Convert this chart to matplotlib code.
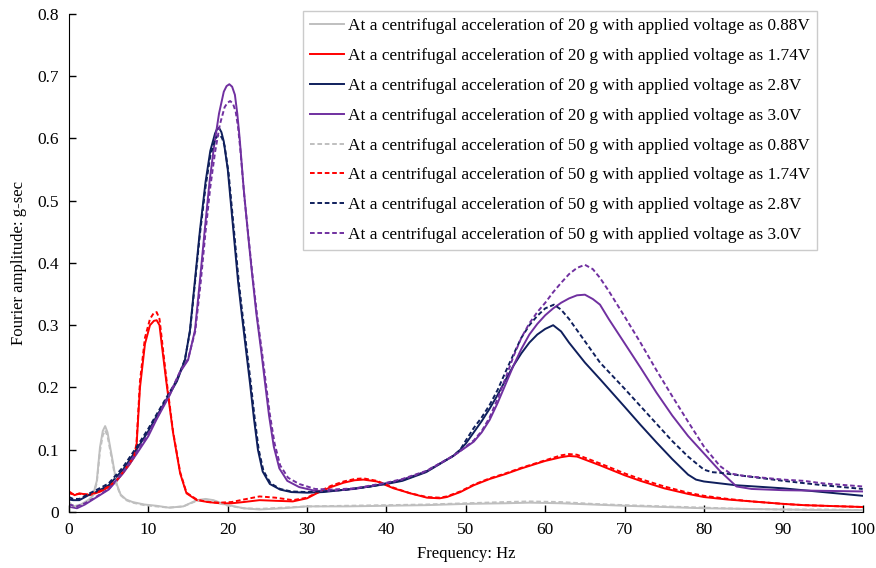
import matplotlib
matplotlib.use("Agg")
import matplotlib.pyplot as plt

# (frequency Hz, Fourier amplitude g-sec)
g20_088 = [(0, 0.016), (0.5, 0.009), (1.5, 0.012), (2.5, 0.02), (3.0, 0.026), (3.5, 0.05), (3.9, 0.104),
           (4.25, 0.13), (4.55, 0.138), (4.85, 0.128), (5.1, 0.11), (5.4, 0.089), (6.0, 0.045), (6.5, 0.028),
           (7.2, 0.02), (8, 0.016), (9.5, 0.012), (11, 0.010), (12.6, 0.007), (14.4, 0.009), (16.1, 0.019),
           (17.2, 0.021), (18.2, 0.019), (19.7, 0.012), (22, 0.006), (24, 0.004), (27, 0.006), (30, 0.009),
           (35, 0.009), (40, 0.010), (45, 0.011), (50, 0.013), (55, 0.014), (58, 0.015), (62, 0.014),
           (66, 0.012), (70, 0.010), (75, 0.008), (80, 0.006), (85, 0.005), (90, 0.004), (95, 0.003), (100, 0.003)]
g50_088 = [(0, 0.014), (0.5, 0.008), (1.5, 0.011), (2.5, 0.019), (3.0, 0.025), (3.5, 0.047), (3.9, 0.098),
           (4.25, 0.123), (4.55, 0.131), (4.85, 0.122), (5.1, 0.105), (5.4, 0.085), (6.0, 0.043), (6.5, 0.027),
           (7.2, 0.019), (8, 0.015), (9.5, 0.011), (11, 0.009), (12.6, 0.007), (14.4, 0.009), (16.1, 0.018),
           (17.2, 0.02), (18.2, 0.018), (19.7, 0.011), (22, 0.006), (24, 0.005), (27, 0.007), (30, 0.009),
           (35, 0.010), (40, 0.011), (45, 0.012), (50, 0.014), (55, 0.016), (58, 0.017), (62, 0.016),
           (66, 0.013), (70, 0.011), (75, 0.009), (80, 0.007), (85, 0.005), (90, 0.004), (95, 0.004), (100, 0.003)]

g20_174 = [(0, 0.033), (0.7, 0.027), (1.3, 0.03), (2.6, 0.027), (4, 0.033), (5, 0.04), (6, 0.05), (6.8, 0.063),
           (7.6, 0.076), (8.2, 0.088), (8.5, 0.105), (8.94, 0.2), (9.57, 0.27), (10.2, 0.3), (10.7, 0.307),
           (11.04, 0.308), (11.4, 0.3), (11.67, 0.27), (12.3, 0.205), (13.1, 0.128), (14.0, 0.062),
           (14.8, 0.03), (16.1, 0.019), (17.5, 0.016), (19, 0.014), (20.5, 0.014), (22, 0.016), (24, 0.019),
           (26, 0.018), (28.2, 0.017), (30, 0.022), (31.2, 0.03), (33, 0.04), (34.6, 0.047), (36, 0.051),
           (37.1, 0.052), (38.8, 0.049), (40.9, 0.038), (43, 0.03), (45.1, 0.023), (46.7, 0.022),
           (47.6, 0.024), (49.3, 0.032), (51, 0.043), (53, 0.053), (55, 0.061), (57, 0.07), (60, 0.082),
           (62, 0.088), (63, 0.09), (64, 0.089), (66.9, 0.075), (70, 0.059), (72, 0.05), (75, 0.038),
           (78, 0.029), (80, 0.024), (83, 0.02), (86, 0.017), (90, 0.013), (92.6, 0.011), (95, 0.01),
           (100, 0.008)]
g50_174 = [(0, 0.03), (0.7, 0.028), (1.3, 0.029), (2.6, 0.028), (4, 0.034), (5, 0.041), (6, 0.051), (6.8, 0.064),
           (7.6, 0.078), (8.2, 0.09), (8.5, 0.11), (8.94, 0.21), (9.57, 0.28), (10.2, 0.31), (10.7, 0.32),
           (11.04, 0.321), (11.4, 0.31), (11.67, 0.28), (12.3, 0.21), (13.1, 0.13), (14.0, 0.064),
           (14.8, 0.031), (16.1, 0.02), (17.5, 0.016), (19, 0.015), (20.5, 0.016), (22, 0.02), (24, 0.025),
           (26, 0.023), (28.2, 0.019), (30, 0.023), (31.2, 0.031), (33, 0.042), (34.6, 0.049), (36, 0.053),
           (37.1, 0.054), (38.8, 0.05), (40.9, 0.039), (43, 0.03), (45.1, 0.024), (46.7, 0.023),
           (47.6, 0.025), (49.3, 0.033), (51, 0.044), (53, 0.054), (55, 0.062), (57, 0.071), (60, 0.083),
           (62, 0.091), (63, 0.093), (64, 0.092), (66.9, 0.078), (70, 0.062), (72, 0.053), (75, 0.041),
           (78, 0.031), (80, 0.026), (83, 0.021), (86, 0.017), (90, 0.013), (92.6, 0.011), (95, 0.01),
           (100, 0.008)]

g20_28 = [(0, 0.02), (0.5, 0.019), (1.3, 0.019), (2.6, 0.028), (4, 0.036), (5, 0.043), (6.8, 0.068), (8.5, 0.1),
          (10, 0.13), (11, 0.153), (12.7, 0.19), (13.6, 0.21), (14.6, 0.244), (15.24, 0.292), (15.87, 0.373),
          (16.5, 0.453), (17.2, 0.53), (17.8, 0.58), (18.4, 0.608), (18.65, 0.615), (18.9, 0.617), (19.2, 0.61),
          (19.5, 0.595), (20.0, 0.55), (20.7, 0.453), (21.3, 0.37), (21.75, 0.319), (22.3, 0.26), (22.8, 0.207),
          (23.3, 0.15), (23.8, 0.1), (24.4, 0.065), (25.3, 0.045), (26.6, 0.036), (28, 0.032), (30, 0.031),
          (32, 0.032), (35, 0.036), (38, 0.041), (40, 0.045), (42, 0.05), (45, 0.064), (48.4, 0.09), (49.3, 0.1),
          (50, 0.11), (51, 0.128), (52, 0.146), (53, 0.166), (54, 0.188), (55, 0.212), (56, 0.235), (57, 0.255),
          (58, 0.272), (59, 0.285), (60, 0.294), (61, 0.3), (62, 0.29), (63, 0.272), (65, 0.24), (67, 0.212),
          (70, 0.169), (72, 0.14), (74, 0.112), (76, 0.085), (78, 0.06), (79, 0.052), (80, 0.049), (82, 0.046),
          (84, 0.043), (90, 0.038), (95, 0.032), (100, 0.026)]
g50_28 = [(0, 0.024), (0.5, 0.021), (1.3, 0.021), (2.6, 0.03), (4, 0.039), (5, 0.046), (6.8, 0.072), (8.5, 0.104),
          (10, 0.134), (11, 0.156), (12.7, 0.193), (13.6, 0.212), (14.6, 0.245), (15.24, 0.29), (15.87, 0.368),
          (16.5, 0.447), (17.2, 0.522), (17.8, 0.572), (18.4, 0.598), (18.7, 0.604), (19.0, 0.606), (19.3, 0.6),
          (19.6, 0.588), (20.1, 0.545), (20.8, 0.45), (21.4, 0.368), (21.85, 0.318), (22.4, 0.26), (22.9, 0.207),
          (23.4, 0.15), (23.9, 0.1), (24.5, 0.066), (25.4, 0.046), (26.6, 0.037), (28, 0.033), (30, 0.032),
          (32, 0.033), (35, 0.036), (38, 0.041), (40, 0.046), (42, 0.051), (45, 0.065), (48.4, 0.09), (49.3, 0.1),
          (50, 0.115), (51, 0.135), (52, 0.152), (53, 0.172), (54, 0.196), (55, 0.225), (56, 0.253), (57, 0.28),
          (58, 0.3), (59, 0.315), (60, 0.327), (61.1, 0.333), (62, 0.325), (63, 0.31), (64.4, 0.285),
          (66.9, 0.24), (70, 0.198), (72, 0.17), (74, 0.142), (76, 0.114), (78, 0.089), (80, 0.068), (81, 0.064),
          (82, 0.063), (85, 0.058), (90, 0.05), (95, 0.043), (100, 0.037)]

g20_30 = [(0, 0.0085), (1, 0.006), (2, 0.012), (3, 0.02), (4, 0.028), (5, 0.036), (6.8, 0.062), (8.5, 0.093),
          (10, 0.122), (11, 0.148), (12.7, 0.188), (14, 0.225), (15, 0.244), (15.87, 0.292), (16.5, 0.373),
          (17.1, 0.453), (17.7, 0.53), (18.3, 0.59), (18.9, 0.64), (19.5, 0.675), (19.85, 0.684), (20.2, 0.687),
          (20.55, 0.683), (20.9, 0.67), (21.2, 0.64), (21.5, 0.6), (22, 0.52), (22.5, 0.453), (23, 0.39),
          (23.6, 0.319), (24.2, 0.26), (24.7, 0.207), (25.2, 0.155), (25.8, 0.105), (26.5, 0.07), (27.5, 0.05),
          (29, 0.04), (31, 0.034), (33, 0.034), (36, 0.037), (40, 0.046), (42, 0.052), (45, 0.065), (48.4, 0.09),
          (49.3, 0.098), (50, 0.104), (51, 0.113), (52, 0.128), (53, 0.148), (54, 0.175), (55, 0.205),
          (56, 0.235), (57, 0.262), (58, 0.285), (59, 0.302), (60, 0.316), (61, 0.327), (62, 0.336), (63, 0.343),
          (64, 0.348), (65, 0.349), (66, 0.342), (66.9, 0.333), (68, 0.31), (70, 0.271), (72, 0.232),
          (74, 0.192), (76, 0.155), (78, 0.122), (80, 0.094), (82, 0.066), (84.1, 0.041), (86, 0.037),
          (90, 0.035), (95, 0.034), (100, 0.033)]
g50_30 = [(0, 0.012), (1, 0.009), (2, 0.014), (3, 0.021), (4, 0.029), (5, 0.037), (6.8, 0.064), (8.5, 0.096),
          (10, 0.126), (11, 0.15), (12.7, 0.19), (14, 0.226), (15, 0.246), (15.9, 0.29), (16.6, 0.37),
          (17.2, 0.45), (17.8, 0.522), (18.4, 0.578), (19.0, 0.622), (19.6, 0.65), (19.95, 0.657), (20.3, 0.66),
          (20.65, 0.656), (21.0, 0.643), (21.3, 0.618), (21.6, 0.58), (22.1, 0.505), (22.6, 0.443), (23.1, 0.382),
          (23.7, 0.315), (24.3, 0.258), (24.8, 0.207), (25.3, 0.157), (25.9, 0.11), (26.6, 0.075), (27.6, 0.055),
          (29, 0.045), (31, 0.037), (33, 0.036), (36, 0.038), (40, 0.047), (42, 0.053), (45, 0.066), (48.4, 0.09),
          (49.3, 0.098), (50, 0.105), (51, 0.115), (52, 0.13), (53, 0.152), (54, 0.182), (55, 0.215), (56, 0.25),
          (57, 0.28), (58, 0.303), (59, 0.321), (60, 0.336), (61, 0.353), (62, 0.368), (63, 0.382), (64, 0.392),
          (65, 0.397), (66, 0.39), (66.9, 0.376), (68, 0.355), (70, 0.314), (72, 0.272), (74, 0.228),
          (76, 0.186), (78, 0.145), (80, 0.105), (82, 0.074), (83.3, 0.062), (85, 0.058), (90, 0.052),
          (92.6, 0.05), (95, 0.046), (100, 0.041)]

labels = ["At a centrifugal acceleration of 20 g with applied voltage as 0.88V",
          "At a centrifugal acceleration of 20 g with applied voltage as 1.74V",
          "At a centrifugal acceleration of 20 g with applied voltage as 2.8V",
          "At a centrifugal acceleration of 20 g with applied voltage as 3.0V",
          "At a centrifugal acceleration of 50 g with applied voltage as 0.88V",
          "At a centrifugal acceleration of 50 g with applied voltage as 1.74V",
          "At a centrifugal acceleration of 50 g with applied voltage as 2.8V",
          "At a centrifugal acceleration of 50 g with applied voltage as 3.0V"]
series = [g20_088, g20_174, g20_28, g20_30, g50_088, g50_174, g50_28, g50_30]
colors = ["#BFBFBF", "#FF0000", "#0F1F5C", "#7030A0"] * 2
styles = ["-"] * 4 + ["--"] * 4

x_ticks = list(range(0, 101, 10))
y_ticks = [0, 0.1, 0.2, 0.3, 0.4, 0.5, 0.6, 0.7, 0.8]
y_ticklabels = ["0", "0.1", "0.2", "0.3", "0.4", "0.5", "0.6", "0.7", "0.8"]

plt.rcParams["font.family"] = ["Liberation Serif", "DejaVu Serif"]
plt.rcParams["font.size"] = 12

fig = plt.figure(figsize=(8.76, 5.68), dpi=100)
ax = fig.add_axes([0.0788, 0.0986, 0.906, 0.877])

for data, lab, c, ls in zip(series, labels, colors, styles):
    f = [p[0] for p in data]
    v = [p[1] for p in data]
    line, = ax.plot(f, v, color=c, lw=1.4, ls=ls, label=lab,
                    solid_joinstyle="round", dash_joinstyle="round")
    if ls == "--":
        line.set_dashes((2.4, 1.4))

ax.set_xlim(0, 100)
ax.set_ylim(0, 0.8)
ax.set_xticks(x_ticks)
ax.set_yticks(y_ticks)
ax.set_yticklabels(y_ticklabels)
ax.tick_params(direction="in", length=5, width=1, labelsize=12.5, pad=7)
ax.spines["top"].set_visible(False)
ax.spines["right"].set_visible(False)
ax.set_xlabel("Frequency: Hz", fontsize=12, labelpad=6)
ax.set_ylabel("Fourier amplitude: g-sec", fontsize=12, labelpad=8)

leg = ax.legend(loc="upper left", bbox_to_anchor=(0.295, 1.005), borderaxespad=0, fontsize=12.4,
                frameon=True, fancybox=False, edgecolor="#BFBFBF", handlelength=2.0,
                handletextpad=0.2, labelspacing=0.8, borderpad=0.4)
leg.get_frame().set_linewidth(1.0)

fig.savefig("out.png", dpi=100)
